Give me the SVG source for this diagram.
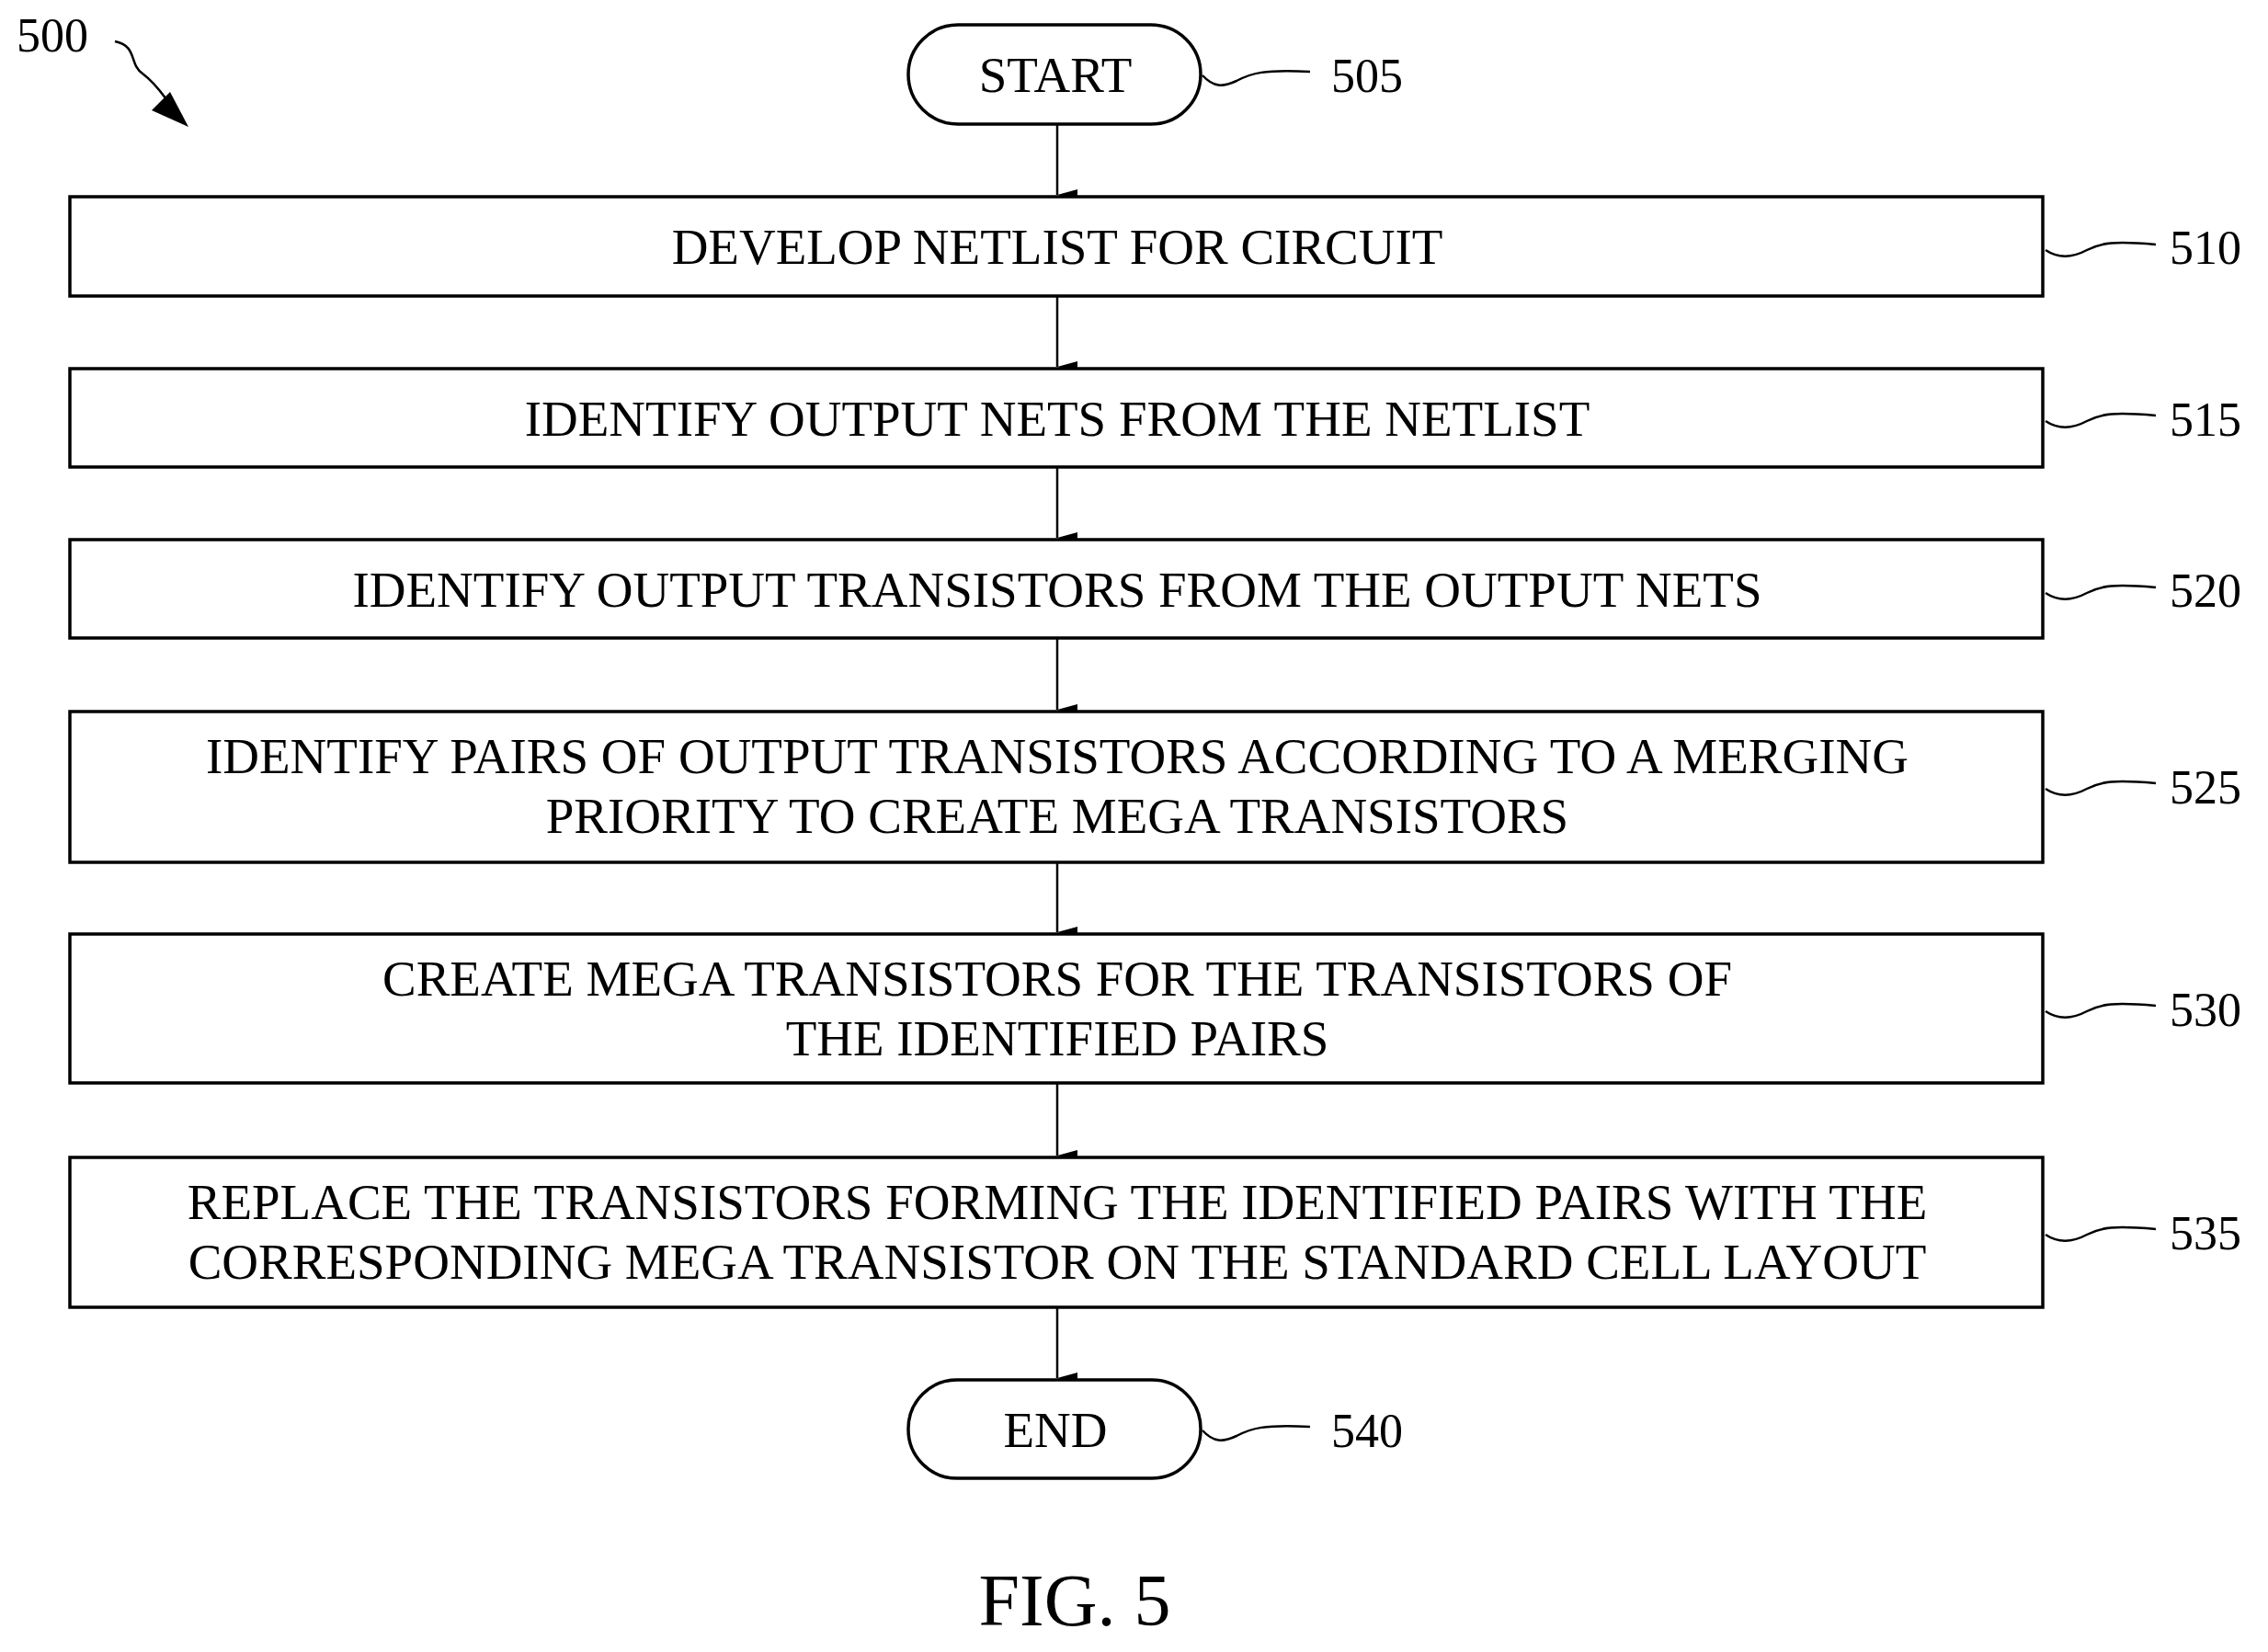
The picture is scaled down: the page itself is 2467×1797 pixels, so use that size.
<svg xmlns="http://www.w3.org/2000/svg" width="2467" height="1797" viewBox="0 0 2467 1797">
<defs>
<style>
.b{fill:#fff;stroke:#000;stroke-width:3.5}
.t{font-family:"Liberation Serif",serif;font-size:55px;text-anchor:middle;fill:#000}
.l{font-family:"Liberation Serif",serif;font-size:52px;fill:#000}
.c{fill:none;stroke:#000;stroke-width:2.5}
</style>
<marker id="a" markerWidth="14" markerHeight="22" refX="7" refY="22" orient="auto-start-reverse" markerUnits="userSpaceOnUse" viewBox="0 0 14 22"><path d="M7 22L1 0L13 0Z" fill="#000" transform="rotate(0)"/></marker>
</defs>
<rect width="2467" height="1797" fill="#fff"/>
<g id="connectors">
<line class="c" x1="1150" y1="135" x2="1150" y2="212" marker-end="url(#a)"/>
<line class="c" x1="1150" y1="322" x2="1150" y2="399" marker-end="url(#a)"/>
<line class="c" x1="1150" y1="508" x2="1150" y2="585" marker-end="url(#a)"/>
<line class="c" x1="1150" y1="694" x2="1150" y2="772" marker-end="url(#a)"/>
<line class="c" x1="1150" y1="938" x2="1150" y2="1014" marker-end="url(#a)"/>
<line class="c" x1="1150" y1="1178" x2="1150" y2="1257" marker-end="url(#a)"/>
<line class="c" x1="1150" y1="1422" x2="1150" y2="1499" marker-end="url(#a)"/>
</g>
<g id="n500"><text class="l" x="18" y="56">500</text><path class="c" d="M125 45C150 50 140 70 155 80C175 95 180 110 195 125"/><path d="M205 138L165 120L185 100Z" fill="#000"/></g>
<g id="n505"><rect class="b" x="988" y="27" width="318" height="108" rx="54"/><text class="t" x="1148" y="100">START</text><path class="c" d="M1308 82C1320 95 1330 95 1345 88C1360 80 1375 75 1425 78"/><text class="l" x="1448" y="100">505</text></g>
<g id="n510"><rect class="b" x="76" y="214" width="2146" height="108"/><text class="t" x="1150" y="287">DEVELOP NETLIST FOR CIRCUIT</text><path class="c" d="M2225 272C2240 282 2255 280 2270 272C2285 264 2300 262 2345 266"/><text class="l" x="2360" y="287">510</text></g>
<g id="n515"><rect class="b" x="76" y="401" width="2146" height="107"/><text class="t" x="1150" y="474">IDENTIFY OUTPUT NETS FROM THE NETLIST</text><path class="c" d="M2225 458C2240 468 2255 466 2270 458C2285 450 2300 448 2345 452"/><text class="l" x="2360" y="474">515</text></g>
<g id="n520"><rect class="b" x="76" y="587" width="2146" height="107"/><text class="t" x="1150" y="660">IDENTIFY OUTPUT TRANSISTORS FROM THE OUTPUT NETS</text><path class="c" d="M2225 645C2240 655 2255 653 2270 645C2285 637 2300 635 2345 639"/><text class="l" x="2360" y="660">520</text></g>
<g id="n525"><rect class="b" x="76" y="774" width="2146" height="164"/><text class="t" x="1150" y="841">IDENTIFY PAIRS OF OUTPUT TRANSISTORS ACCORDING TO A MERGING</text><text class="t" x="1150" y="906">PRIORITY TO CREATE MEGA TRANSISTORS</text><path class="c" d="M2225 858C2240 868 2255 866 2270 858C2285 850 2300 848 2345 852"/><text class="l" x="2360" y="874">525</text></g>
<g id="n530"><rect class="b" x="76" y="1016" width="2146" height="162"/><text class="t" x="1150" y="1083">CREATE MEGA TRANSISTORS FOR THE TRANSISTORS OF</text><text class="t" x="1150" y="1148">THE IDENTIFIED PAIRS</text><path class="c" d="M2225 1100C2240 1110 2255 1108 2270 1100C2285 1092 2300 1090 2345 1094"/><text class="l" x="2360" y="1116">530</text></g>
<g id="n535"><rect class="b" x="76" y="1259" width="2146" height="163"/><text class="t" x="1150" y="1326">REPLACE THE TRANSISTORS FORMING THE IDENTIFIED PAIRS WITH THE</text><text class="t" x="1150" y="1391">CORRESPONDING MEGA TRANSISTOR ON THE STANDARD CELL LAYOUT</text><path class="c" d="M2225 1343C2240 1353 2255 1351 2270 1343C2285 1335 2300 1333 2345 1337"/><text class="l" x="2360" y="1359">535</text></g>
<g id="n540"><rect class="b" x="988" y="1501" width="318" height="107" rx="53"/><text class="t" x="1148" y="1574">END</text><path class="c" d="M1308 1556C1320 1569 1330 1569 1345 1562C1360 1554 1375 1549 1425 1552"/><text class="l" x="1448" y="1574">540</text></g>
<text x="1169" y="1768" style="font-family:'Liberation Serif',serif;font-size:80px;text-anchor:middle">FIG. 5</text>
</svg>
